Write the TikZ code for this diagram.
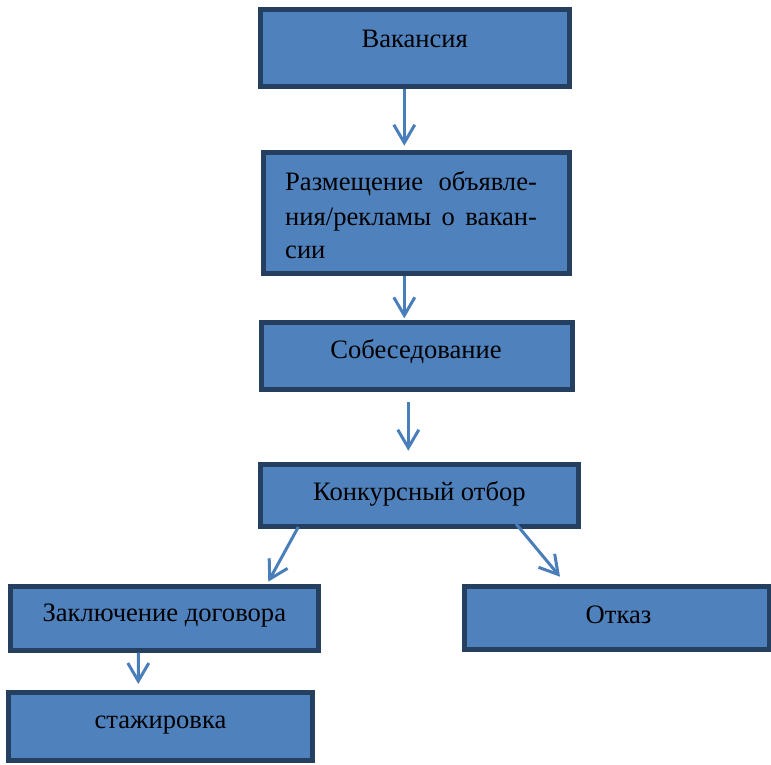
\documentclass[tikz,border=0pt]{standalone}
\usepackage{fontspec}
\setmainfont{Liberation Serif}
\usetikzlibrary{arrows.meta}
\definecolor{boxfill}{HTML}{4F81BD}
\definecolor{boxline}{HTML}{243F60}
\definecolor{arrcol}{HTML}{4A7EBB}
\tikzset{
  box/.style={draw=boxline, fill=boxfill, line width=5pt, inner sep=0pt, rectangle},
  txt/.style={font=\fontsize{26.6pt}{34pt}\selectfont, inner sep=0pt, text=black},
  arr/.style={draw=arrcol, line width=3pt, -{Straight Barb[length=18pt,width=21pt]}}
}
\begin{document}
\begin{tikzpicture}[x=1pt,y=-1pt]
\useasboundingbox (0,0) rectangle (771,764);
% boxes
\node[box, minimum width=308.5pt, minimum height=76.5pt] (b1) at (414.75,47.75) {};
\node[box, minimum width=306pt, minimum height=121.7pt] (b2) at (416,212.85) {};
\node[box, minimum width=311.5pt, minimum height=66.7pt] (b3) at (416.75,355.85) {};
\node[box, minimum width=317.2pt, minimum height=61.5pt] (b4) at (419.4,495.25) {};
\node[box, minimum width=308pt, minimum height=63.5pt] (b5) at (164.8,618.45) {};
\node[box, minimum width=304.2pt, minimum height=63.3pt] (b6) at (616.9,617.85) {};
\node[box, minimum width=303.7pt, minimum height=68.3pt] (b7) at (160.65,726.65) {};
% texts
\node[txt, anchor=base] (t1) at (414.75,47) {Вакансия};
\node[txt, anchor=base west] (t2a) at (285,190) {\makebox[251.7pt][s]{Размещение объявле-}};
\node[txt, anchor=base west] (t2b) at (285,225) {\makebox[251.7pt][s]{ния/рекламы о вакан-}};
\node[txt, anchor=base west] (t2c) at (285,258) {сии};
\node[txt, anchor=base] (t3) at (416,358.3) {Собеседование};
\node[txt, anchor=base] (t4) at (419.4,500.7) {Конкурсный отбор};
\node[txt, anchor=base] (t5) at (164.3,621.7) {Заключение договора};
\node[txt, anchor=base] (t6) at (618.5,623.3) {Отказ};
\node[txt, anchor=base] (t7) at (160.5,728.3) {стажировка};
% arrows
\coordinate (c3a) at (408.3,401.7);
\coordinate (c3b) at (408.3,450.7);
\draw[arr] ([xshift=-10.45pt]b1.south) -- ([xshift=-11.7pt,yshift=3.8pt]b2.north);
\draw[arr] ([xshift=-11.7pt]b2.south) -- ([xshift=-12.45pt,yshift=1.7pt]b3.north);
\draw[arr] (c3a) -- (c3b);
\draw[arr] ([xshift=-121.1pt,yshift=1.5pt]b4.south) -- ([xshift=103.5pt,yshift=2.5pt]b5.north);
\draw[arr] ([xshift=96.6pt,yshift=4.7pt]b4.south) -- ([xshift=-56.9pt,yshift=7pt]b6.north);
\draw[arr] ([xshift=-26.5pt]b5.south) -- ([xshift=-22.35pt,yshift=6pt]b7.north);
\end{tikzpicture}
\end{document}
